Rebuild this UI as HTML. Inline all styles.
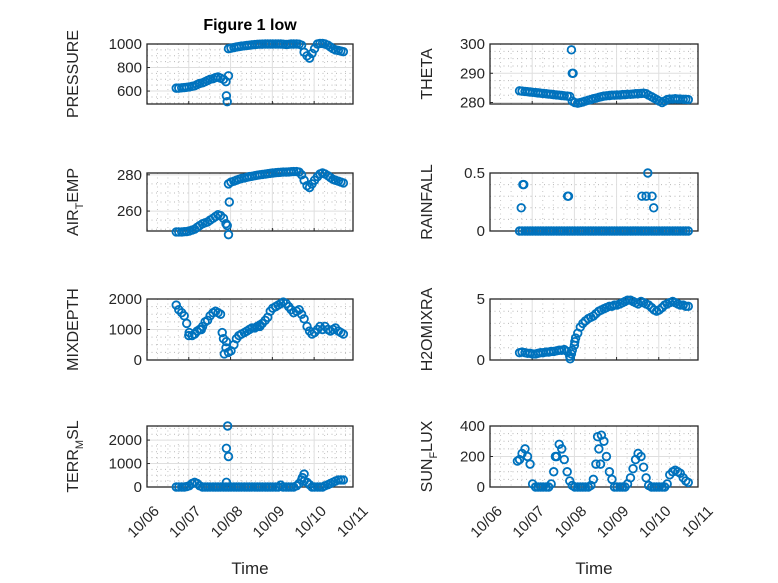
<!DOCTYPE html>
<html><head><meta charset="utf-8"><style>
html,body{margin:0;padding:0;background:#fff;}
svg{display:block;font-family:"Liberation Sans",sans-serif;}
</style></head><body>
<svg id="fig" width="778" height="583" viewBox="0 0 778 583">
<text x="250" y="30" text-anchor="middle" font-size="16" font-weight="bold" fill="#000">Figure 1 low</text>
<text x="250" y="574" text-anchor="middle" font-size="17" fill="#262626">Time</text>
<text x="594" y="574" text-anchor="middle" font-size="17" fill="#262626">Time</text>
</svg>
<script>
const times = [0.70,0.76,0.83,0.89,0.95,1.01,1.08,1.14,1.20,1.26,1.33,1.39,1.45,1.51,1.58,1.64,1.70,1.76,1.83,1.89,1.95,2.01,2.08,2.14,2.20,2.26,2.33,2.39,2.45,2.51,2.58,2.64,2.70,2.76,2.83,2.89,2.95,3.01,3.08,3.14,3.20,3.26,3.33,3.39,3.45,3.51,3.58,3.64,3.70,3.76,3.83,3.89,3.95,4.01,4.08,4.14,4.20,4.26,4.33,4.39,4.45,4.51,4.58,4.64,4.70];
const xTickLabels = ["10/06","10/07","10/08","10/09","10/10","10/11"];
const xTickDays = [0,1,2,3,4,5];

const pressure = [625,625,628,630,632,635,640,645,655,665,670,680,690,700,705,715,720,710,700,680,
960,965,970,975,978,982,985,988,990,993,995,997,998,999,1000,1000,1000,1000,1000,1000,1000,998,996,997,
1000,1000,1000,998,990,930,900,880,920,960,1000,1005,1005,1000,990,975,960,950,945,940,935];
const pressureExtraT = [1.90,1.92,1.95];
const pressureExtraV = [560,510,730];

const theta = [284,283.9,283.8,283.7,283.6,283.5,283.4,283.3,283.2,283.1,283,282.9,282.8,282.7,282.6,282.5,282.4,282.3,282.2,282.1,
280.5,280,279.8,280,280.2,280.5,280.8,281,281.3,281.5,281.8,282,282.2,282.3,282.4,282.5,282.5,282.6,282.6,282.7,
282.7,282.8,282.8,282.9,283,283,283.1,283.2,283,282.5,282,281.5,281,280.5,280,280.5,281,281.2,281.2,281.3,281.2,281.2,281.1,281.1,281];
const thetaExtraT = [1.93,1.95,1.97];
const thetaExtraV = [298,290,290];

const airTemp = [248.5,248.5,248.5,248.6,248.7,249,249.5,250,251,252,253,253.5,254,255,256,257,258,257.5,256,253,
275,276,276.5,277,277.5,278,278.3,278.6,279,279.2,279.5,279.8,280,280.2,280.4,280.6,280.8,281,281.2,281.3,
281.4,281.5,281.5,281.6,281.7,281.8,281.8,281.5,280,277,274,273,275,277,279,280.5,281,280.5,279.5,278.5,277.5,277,276.5,276,275.5];
const airTempExtraT = [1.92,1.95,1.97];
const airTempExtraV = [252,247,265];

const rainfall = [0,0,0,0,0,0,0,0,0,0,0,0,0,0,0,0,0,0,0,0,0,0,0,0,0,0,0,0,0,0,0,0,0,0,0,0,0,0,0,0,0,0,0,0,0,0,0,0,0,0,0,0,0,0,0,0,0,0,0,0,0,0,0,0,0];
const rainfallExtraT = [0.74,0.78,0.80,1.84,1.86,3.60,3.70,3.74,3.84,3.88];
const rainfallExtraV = [0.2,0.4,0.4,0.3,0.3,0.3,0.3,0.5,0.3,0.2];

const mixDepth = [1800,1650,1550,1450,1200,900,800,850,950,1000,
1100,1250,1300,1450,1550,1600,1550,1500,700,400,
250,300,500,700,800,850,900,950,1000,1050,
1050,1100,1150,1200,1300,1400,1600,1700,1750,1800,
1850,1900,1850,1750,1650,1550,1600,1650,1500,1350,
1100,950,850,900,1000,1100,1000,1100,1000,950,
1000,1050,950,900,850];
const mixDepthExtraT = [1.80,1.85,1.90,1.30,1.00,2.70];
const mixDepthExtraV = [900,200,600,1000,800,1100];

const h2oMix = [0.6,0.65,0.6,0.55,0.55,0.5,0.5,0.55,0.6,0.6,0.65,0.65,0.7,0.7,0.75,0.8,0.8,0.85,0.7,0.3,
0.8,1.5,2.2,2.7,3.0,3.2,3.4,3.5,3.6,3.8,
4.0,4.1,4.2,4.3,4.4,4.4,4.5,4.5,4.6,4.7,
4.8,4.9,4.9,4.8,4.7,4.6,4.8,4.7,4.6,4.5,
4.3,4.1,4.0,4.1,4.3,4.5,4.6,4.7,4.8,4.7,
4.6,4.5,4.5,4.4,4.4];
const h2oMixExtraT = [1.90,1.93,2.00,2.03];
const h2oMixExtraV = [0.1,0.5,1.2,1.8];

const terrMsl = [0,0,0,0,20,50,150,200,150,50,0,0,0,0,0,0,0,0,0,0,
0,0,0,0,0,0,0,0,0,0,
0,0,0,0,0,0,0,0,0,0,
80,0,0,0,0,0,50,150,300,250,
200,100,0,0,0,0,0,50,100,150,
200,250,300,300,300];
const terrMslExtraT = [1.93,1.90,1.95,1.90,3.76,3.72];
const terrMslExtraV = [2600,1650,1300,200,550,400];

const sunFlux = [180,220,250,200,150,20,0,0,0,0,
0,0,20,100,200,280,250,180,100,40,
10,0,0,0,0,0,0,10,50,150,
250,340,300,200,100,50,0,0,0,0,
0,20,60,120,180,220,200,130,60,10,
0,0,0,0,0,0,20,80,100,110,
100,90,60,40,30];
const sunFluxExtraT = [0.65,1.55,2.55,2.62];
const sunFluxExtraV = [170,200,330,150];

const panels = [
 {name:"pressure",label:["PRESSURE"],x0:147,w:206,y0:44,h:60,ymin:490,ymax:1000,ticks:[600,800,1000],minor:50,v:pressure,et:pressureExtraT,ev:pressureExtraV,lx:78},
 {name:"theta",label:["THETA"],x0:490,w:208,y0:44,h:60,ymin:279.5,ymax:300,ticks:[280,290,300],minor:2.5,v:theta,et:thetaExtraT,ev:thetaExtraV,lx:432},
 {name:"air-temp",label:["AIR","T","EMP"],x0:147,w:206,y0:173,h:58,ymin:249,ymax:281,ticks:[260,280],minor:5,v:airTemp,et:airTempExtraT,ev:airTempExtraV,lx:78},
 {name:"rainfall",label:["RAINFALL"],x0:490,w:208,y0:173,h:58,ymin:0,ymax:0.5,ticks:[0,0.5],minor:0.1,v:rainfall,et:rainfallExtraT,ev:rainfallExtraV,lx:432},
 {name:"mixdepth",label:["MIXDEPTH"],x0:147,w:206,y0:299,h:61,ymin:0,ymax:2000,ticks:[0,1000,2000],minor:250,v:mixDepth,et:mixDepthExtraT,ev:mixDepthExtraV,lx:78},
 {name:"h2omixra",label:["H2OMIXRA"],x0:490,w:208,y0:299,h:61,ymin:0,ymax:5,ticks:[0,5],minor:1,v:h2oMix,et:h2oMixExtraT,ev:h2oMixExtraV,lx:432},
 {name:"terr-msl",label:["TERR","M","SL"],x0:147,w:206,y0:426,h:61,ymin:0,ymax:2600,ticks:[0,1000,2000],minor:250,v:terrMsl,et:terrMslExtraT,ev:terrMslExtraV,lx:78,xlab:true},
 {name:"sun-flux",label:["SUN","F","LUX"],x0:490,w:208,y0:426,h:61,ymin:0,ymax:400,ticks:[0,200,400],minor:50,v:sunFlux,et:sunFluxExtraT,ev:sunFluxExtraV,lx:432,xlab:true}
];
const XMAX = 4.93;
const NS="http://www.w3.org/2000/svg";
const svg=document.getElementById('fig');
function mk(tag,attrs,parent){const e=document.createElementNS(NS,tag);for(const k in attrs)e.setAttribute(k,attrs[k]);(parent||svg).appendChild(e);return e;}
function fmt(v){return (Math.round(v*100)/100).toString();}

panels.forEach(p=>{
  const g=mk('g',{});
  
  
  const sx=d=>p.x0+d/XMAX*p.w;
  const sy=v=>p.y0+p.h-(v-p.ymin)/(p.ymax-p.ymin)*p.h;
  const start=Math.ceil(p.ymin/p.minor)*p.minor;
  for(let v=start; v<=p.ymax+1e-9; v+=p.minor){
    if(p.ticks.some(t=>Math.abs(t-v)<1e-9)) continue;
    const l=mk('line',{x1:p.x0,x2:p.x0+p.w,y1:sy(v),y2:sy(v),stroke:'#b8b8b8','stroke-width':1,'stroke-dasharray':'1,3.5'},g);
    
    
  }
  for(let d=0.25; d<XMAX; d+=0.25){
    if(Math.abs(d-Math.round(d))<1e-9) continue;
    const l=mk('line',{x1:sx(d),x2:sx(d),y1:p.y0,y2:p.y0+p.h,stroke:'#c8c8c8','stroke-width':1,'stroke-dasharray':'1,3.5'},g);
    
    
  }
  p.ticks.forEach(t=>{
    const y=sy(t);
    const l=mk('line',{x1:p.x0,x2:p.x0+p.w,y1:y,y2:y,stroke:'#dfdfdf','stroke-width':1},g);
    
    
    const tk=mk('line',{x1:p.x0,x2:p.x0+3,y1:y,y2:y,stroke:'#262626','stroke-width':1},g);
    
    
    const tx=mk('text',{x:p.x0-5,y:y+5,'text-anchor':'end','font-size':15,fill:'#262626'},g);
    tx.textContent=fmt(t);
    
    
  });
  xTickDays.forEach((d,i)=>{
    if(d>XMAX) return;
    const x=sx(d);
    const l=mk('line',{x1:x,x2:x,y1:p.y0,y2:p.y0+p.h,stroke:'#dfdfdf','stroke-width':1},g);
    
    
    const tk=mk('line',{x1:x,x2:x,y1:p.y0+p.h,y2:p.y0+p.h-3,stroke:'#262626','stroke-width':1},g);
    
    
  });
  if(p.xlab){
    xTickDays.forEach((d,i)=>{
      const x=p.x0+d/XMAX*p.w;
      const tx=mk('text',{'text-anchor':'end','font-size':15,fill:'#262626',transform:`translate(${x+13},${p.y0+p.h+25}) rotate(-45)`},g);
      tx.textContent=xTickLabels[i];
      
      
    });
  }
  const b=mk('rect',{x:p.x0,y:p.y0,width:p.w,height:p.h,fill:'none',stroke:'#262626','stroke-width':1.3},g);
  
  
  const yl=mk('text',{'text-anchor':'middle','font-size':16,fill:'#262626',transform:`translate(${p.lx},${p.y0+p.h/2}) rotate(-90)`},g);
  
  
  if(p.label.length===1){yl.textContent=p.label[0];}
  else{
    const a=mk('tspan',{},yl);a.textContent=p.label[0];
    const s=mk('tspan',{dy:5,'font-size':11},yl);s.textContent=p.label[1];
    const c=mk('tspan',{dy:-5},yl);c.textContent=p.label[2];
  }
  const mg=mk('g',{fill:'none',stroke:'#0072BD','stroke-width':1.8},g);
  
  
  times.forEach((t,i)=>{
    const c=mk('circle',{cx:sx(t),cy:sy(p.v[i]),r:3.8},mg);
    
    
  });
  p.et.forEach((t,i)=>{
    const c=mk('circle',{cx:sx(t),cy:sy(p.ev[i]),r:3.8},mg);
    
    
  });
});
</script>
</body></html>
